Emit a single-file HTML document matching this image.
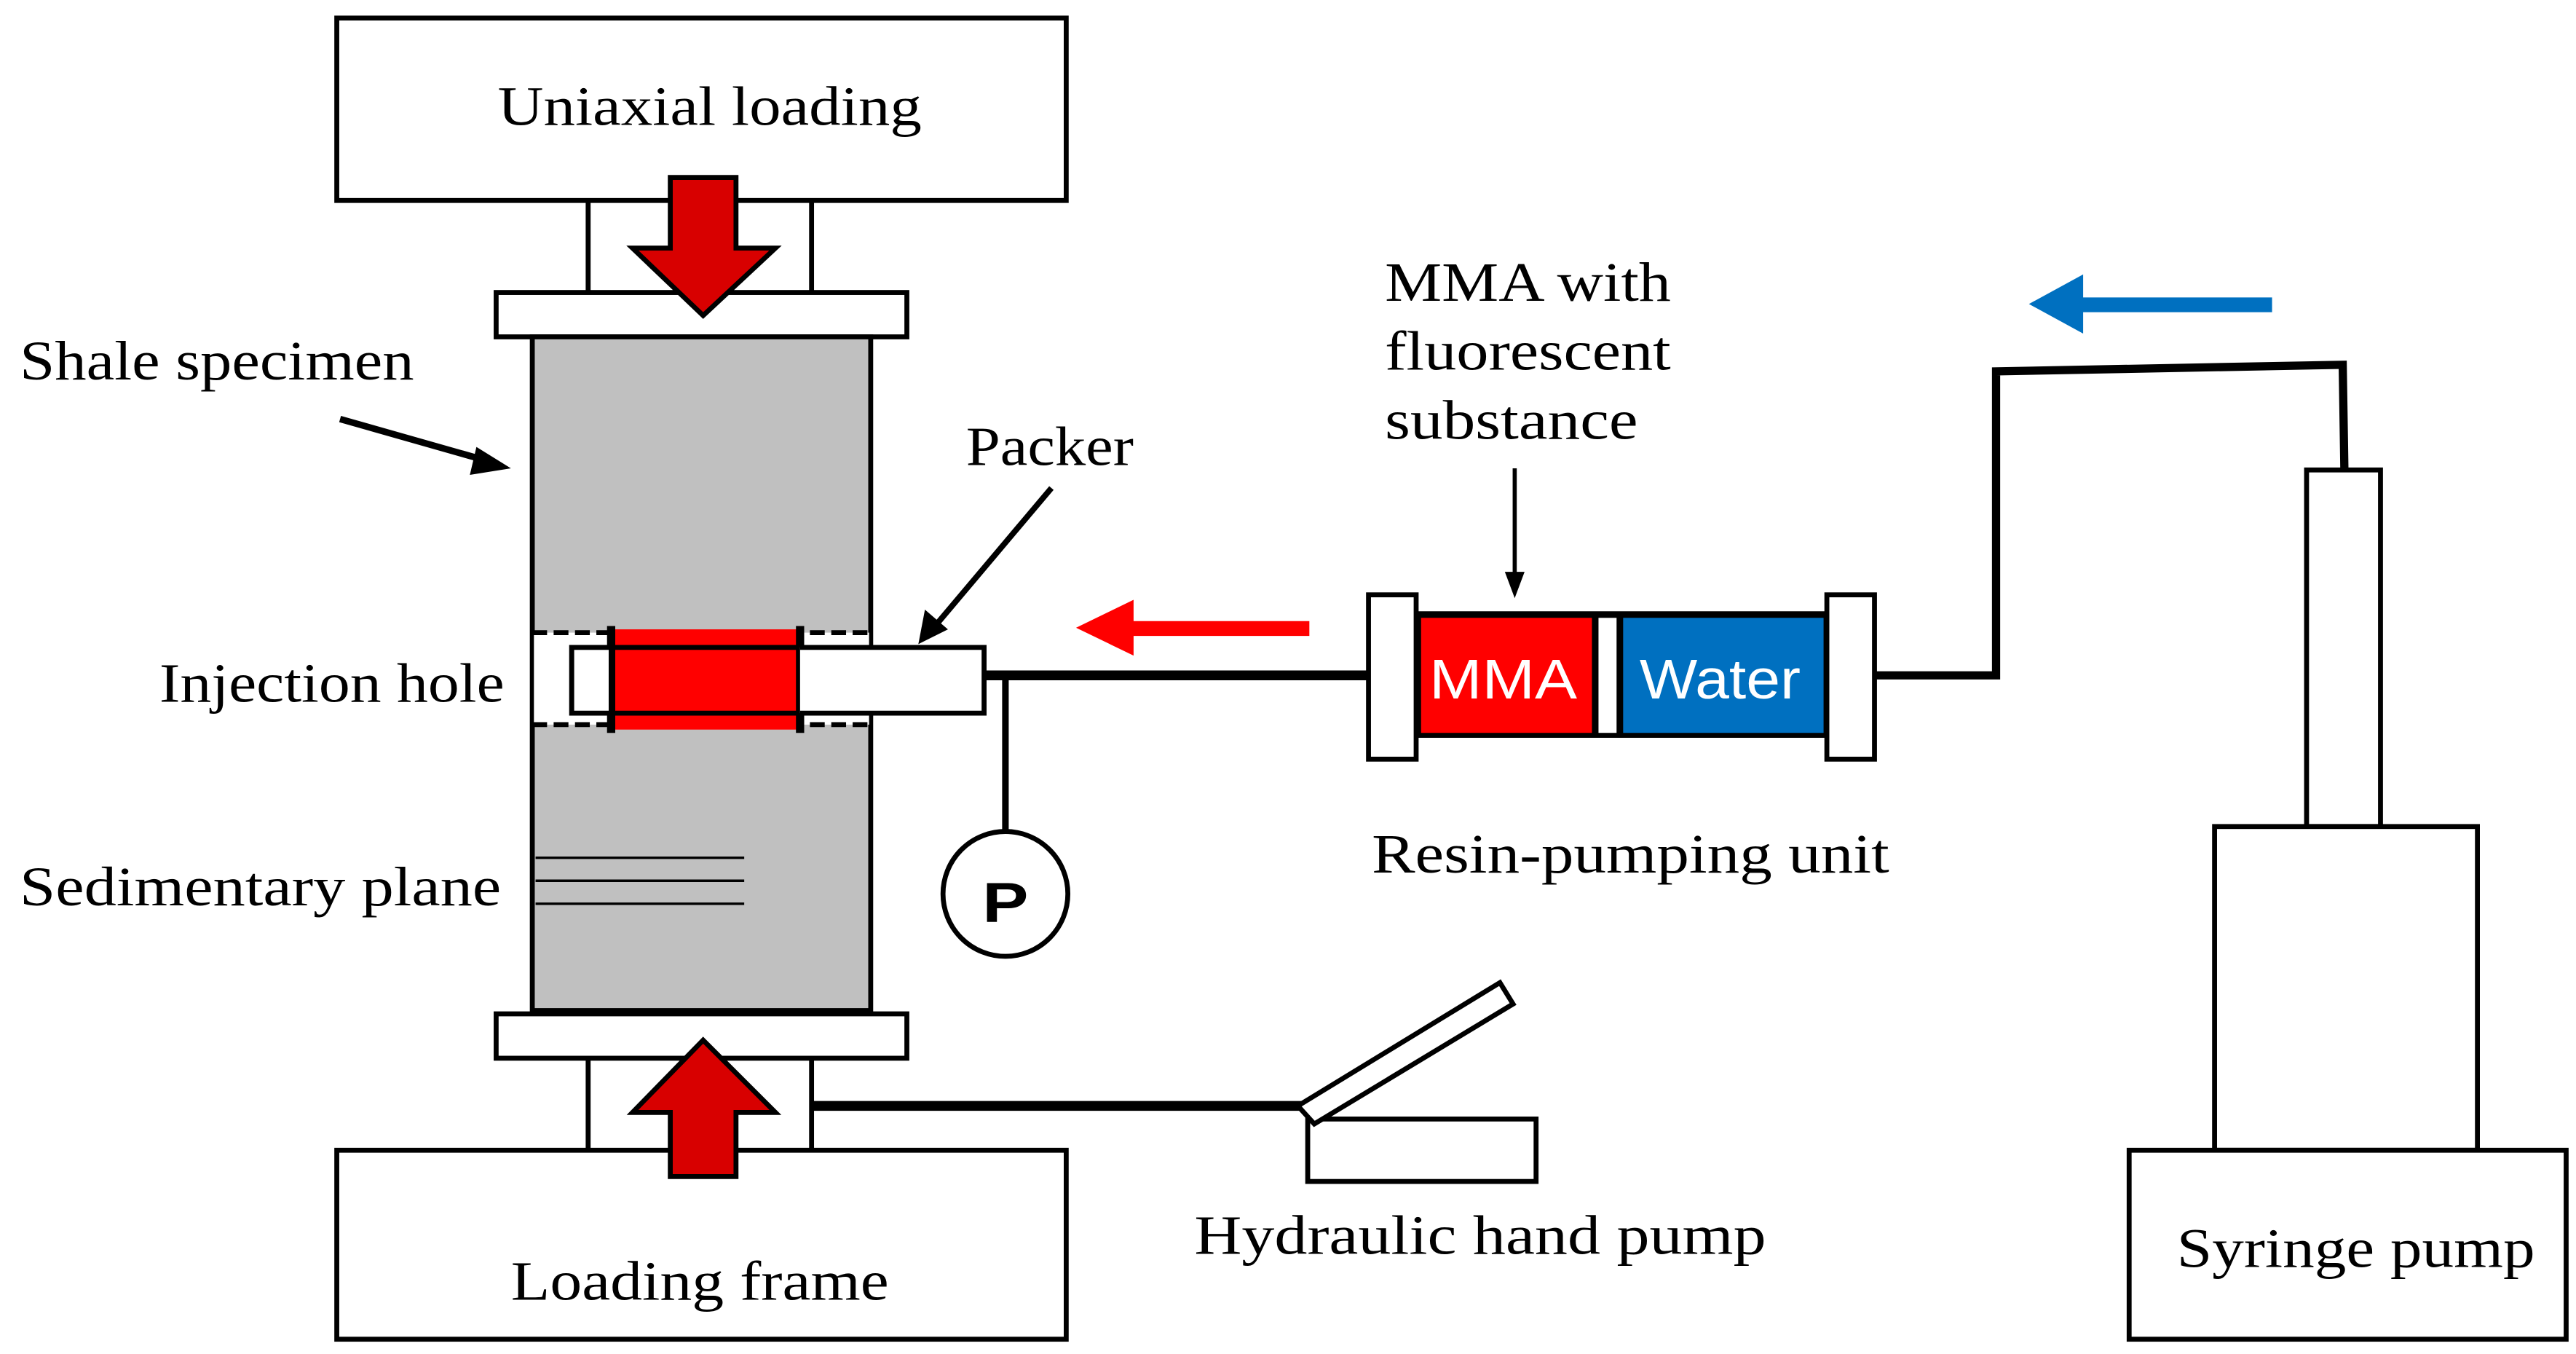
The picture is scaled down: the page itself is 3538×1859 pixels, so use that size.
<!DOCTYPE html>
<html><head><meta charset="utf-8"><style>
html,body{margin:0;padding:0;background:#fff;}
svg{display:block;}
text{font-family:"Liberation Serif",serif;font-size:34px;fill:#000;}
.s{font-family:"Liberation Sans","DejaVu Sans",sans-serif;}
</style></head><body>
<svg width="3538" height="1859" viewBox="0 0 1568 824" preserveAspectRatio="none" xmlns="http://www.w3.org/2000/svg">
<g fill="none" stroke="#000" stroke-width="3">
<rect x="205" y="11" width="444" height="111" fill="#fff"/>
<line x1="358" y1="122" x2="358" y2="178"/><line x1="494" y1="122" x2="494" y2="178"/>
<rect x="302" y="178" width="250" height="27" fill="#fff"/>
<rect x="324" y="205" width="206" height="410" fill="#c0c0c0"/>
<rect x="325" y="385" width="204" height="56" fill="#fff" stroke="none"/>
<line x1="324" y1="385" x2="324" y2="441" stroke-width="1.5"/>
<line x1="324" y1="385" x2="530" y2="385" stroke-dasharray="9,4"/>
<line x1="324" y1="441" x2="530" y2="441" stroke-dasharray="9,4"/>
<rect x="372" y="383" width="115" height="61" fill="#f00" stroke="none"/>
<rect x="348" y="394" width="251" height="40"/>
<line x1="372" y1="381" x2="372" y2="446" stroke-width="5"/>
<line x1="487" y1="381" x2="487" y2="446" stroke-width="5"/>
<rect x="348" y="394" width="24" height="40" fill="#fff"/>
<path d="M487 394 H599 V434 H487" fill="#fff"/>
<g stroke-width="1.5"><line x1="326" y1="522" x2="453" y2="522"/><line x1="326" y1="536" x2="453" y2="536"/><line x1="326" y1="550" x2="453" y2="550"/></g>
<rect x="302" y="617" width="250" height="27" fill="#fff"/>
<line x1="358" y1="644" x2="358" y2="700"/><line x1="494" y1="644" x2="494" y2="700"/>
<rect x="205" y="700" width="444" height="115" fill="#fff"/>
<polygon points="408,108 448,108 448,151 472,151 428,192 385,151 408,151" fill="#d80000" stroke-width="3"/>
<polygon points="428,633 472,677 448,677 448,716 408,716 408,677 385,677" fill="#d80000" stroke-width="3"/>
<line x1="494" y1="673" x2="795" y2="673" stroke-width="6"/>
<rect x="796" y="681" width="139" height="38" fill="#fff"/>
<polygon points="790,673 913,598 921,611 800,684" fill="#fff"/>
<line x1="599" y1="411" x2="833" y2="411" stroke-width="6"/>
<line x1="612" y1="411" x2="612" y2="507" stroke-width="4"/>
<circle cx="612" cy="544" r="38" fill="#fff"/>
<polyline points="1141,411 1215,411 1215,226 1426,222 1427,285" stroke-width="5"/>
<rect x="862" y="372" width="250" height="77" fill="#000" stroke="none"/>
<rect x="865" y="376" width="104" height="70" fill="#f00" stroke="none"/>
<rect x="973" y="376" width="11" height="70" fill="#fff" stroke="none"/>
<rect x="988" y="376" width="122" height="70" fill="#0070c0" stroke="none"/>
<rect x="833" y="362" width="29" height="100" fill="#fff"/>
<rect x="1112" y="362" width="29" height="100" fill="#fff"/>
<line x1="922" y1="285" x2="922" y2="350" stroke-width="2.5"/>
<polygon points="916,348 928,348 922,364" fill="#000" stroke="none"/>
<rect x="1404" y="286" width="45" height="217" fill="#fff"/>
<rect x="1348" y="503" width="160" height="197" fill="#fff"/>
<rect x="1296" y="700" width="266" height="115" fill="#fff"/>
<line x1="207" y1="255" x2="295" y2="280" stroke-width="4"/>
<polygon points="311,285 290,272 286,289" fill="#000" stroke="none"/>
<line x1="640" y1="297" x2="570" y2="380" stroke-width="3.5"/>
<polygon points="559,392 563,371 577,383" fill="#000" stroke="none"/>
</g>
<polygon points="655,382 690,365 690,378 797,378 797,387 690,387 690,399" fill="#f00"/>
<polygon points="1235,185 1268,167 1268,181 1383,181 1383,190 1268,190 1268,203" fill="#0070c0"/>
<text x="612" y="561" class="s" font-size="50" font-weight="bold" text-anchor="middle" textLength="28" lengthAdjust="spacingAndGlyphs">P</text>
<text x="303" y="76" textLength="258" lengthAdjust="spacingAndGlyphs">Uniaxial loading</text>
<text x="12" y="231" textLength="240" lengthAdjust="spacingAndGlyphs">Shale specimen</text>
<text x="588" y="283" textLength="102" lengthAdjust="spacingAndGlyphs">Packer</text>
<text x="97" y="427" textLength="210" lengthAdjust="spacingAndGlyphs">Injection hole</text>
<text x="12" y="551" textLength="293" lengthAdjust="spacingAndGlyphs">Sedimentary plane</text>
<text x="311" y="791" textLength="230" lengthAdjust="spacingAndGlyphs">Loading frame</text>
<text x="843" y="183" textLength="174" lengthAdjust="spacingAndGlyphs">MMA with</text>
<text x="843" y="225" textLength="174" lengthAdjust="spacingAndGlyphs">fluorescent</text>
<text x="843" y="267" textLength="154" lengthAdjust="spacingAndGlyphs">substance</text>
<text x="835" y="531" textLength="315" lengthAdjust="spacingAndGlyphs">Resin-pumping unit</text>
<text x="727" y="763" textLength="348" lengthAdjust="spacingAndGlyphs">Hydraulic hand pump</text>
<text x="1325" y="771" textLength="218" lengthAdjust="spacingAndGlyphs">Syringe pump</text>
<text x="870" y="425" class="s" font-size="32" style="fill:#fff" textLength="90" lengthAdjust="spacingAndGlyphs">MMA</text>
<text x="998" y="425" class="s" font-size="32" style="fill:#fff" textLength="98" lengthAdjust="spacingAndGlyphs">Water</text>
</svg>
</body></html>
